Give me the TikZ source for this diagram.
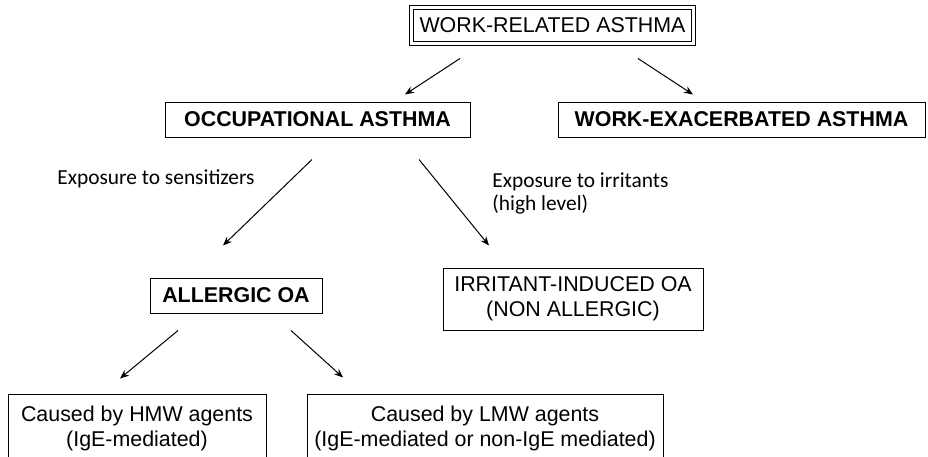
\documentclass[tikz,border=0pt]{standalone}
\usepackage{fontspec}
\setmainfont{Liberation Sans}
\newfontfamily\labelfont{Carlito}
\usetikzlibrary{arrows.meta, calc}

\begin{document}
\begin{tikzpicture}[
  x=0.5pt, y=-0.5pt,
  box/.style={draw, line width=0.5pt, inner sep=0pt, align=center, font=\fontsize{10.7}{12.5}\selectfont},
  boldbox/.style={box, font=\fontsize{10.7}{12.5}\selectfont\bfseries},
  lab/.style={inner sep=0pt, align=left, anchor=base west, font=\labelfont\fontsize{10.7}{11.5}\selectfont},
  arr/.style={-{Stealth[length=4.5pt, width=3.6pt]}, line width=0.5pt}
]
\clip (0,0) rectangle (928,456);
\node[box, double, double distance=1.5pt, minimum width=141pt, minimum height=18pt] (wra) at (552.5,25) {WORK-RELATED ASTHMA};
\node[boldbox, minimum width=152.5pt, minimum height=17.5pt] (oa) at (317.5,119.5) {OCCUPATIONAL ASTHMA};
\node[boldbox, minimum width=183.5pt, minimum height=17.5pt] (wea) at (741.5,119.5) {WORK-EXACERBATED ASTHMA};
\node[boldbox, minimum width=86pt, minimum height=17.5pt] (aoa) at (236,295.5) {ALLERGIC OA};
\node[box, minimum width=130pt, minimum height=31pt] (irr) at (573,299) {IRRITANT-INDUCED OA\\(NON ALLERGIC)};
\node[box, minimum width=129pt, minimum height=34pt] (hmw) at (137,428) {Caused by HMW agents\\(IgE-mediated)};
\node[box, minimum width=178pt, minimum height=34pt] (lmw) at (485,428) {Caused by LMW agents\\(IgE-mediated or non-IgE mediated)};

% edge labels
\node[lab] (senslab) at (57,184) {Exposure to sensitizers};
\node[lab] (irrlab) at (492,210) {Exposure to irritants\\(high level)};

\draw[arr] ($(wra.south)+(-92.5,15)$) -- ($(oa.north)+(87.5,-7)$);
\draw[arr] ($(wra.south)+(85.5,15)$) -- ($(wea.north)+(-48.5,-7)$);
\draw[arr] ($(oa.south)+(-5.5,22)$) -- ($(aoa.north)+(-13,-32)$);
\draw[arr] ($(oa.south)+(101.5,22)$) -- ($(irr.north)+(-84,-22)$);
\draw[arr] ($(aoa.south)+(-58,17)$) -- ($(hmw.north)+(-17,-15)$);
\draw[arr] ($(aoa.south)+(55,17)$) -- ($(lmw.north)+(-142,-16)$);
\end{tikzpicture}
\end{document}
